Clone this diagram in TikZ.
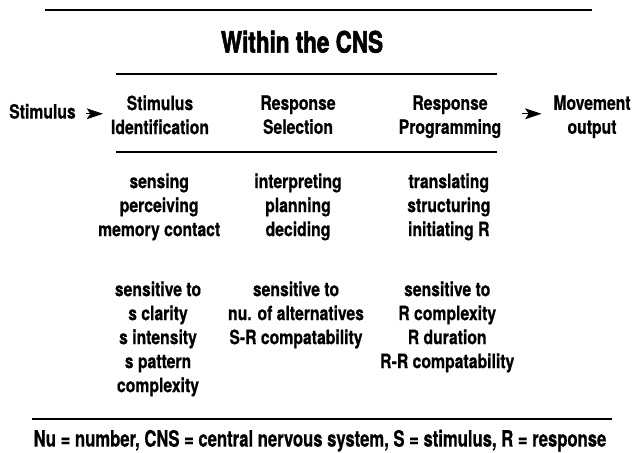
\documentclass[tikz,border=0pt]{standalone}
\usepackage{fontspec}
\setmainfont{TeX Gyre Heros}[FakeStretch=0.8, BoldFeatures={FakeBold=0.6}]
\newfontfamily\headfont{TeX Gyre Heros}[FakeStretch=0.76, BoldFeatures={FakeBold=2}]
\newfontfamily\notefont{TeX Gyre Heros}[FakeStretch=0.74, BoldFeatures={FakeBold=0.8}]
\usetikzlibrary{
    arrows.meta,
    positioning
}

\begin{document}
\begin{tikzpicture}[
    stage/.style={align=center, inner sep=0pt, anchor=north,
        font=\fontsize{14}{17.07}\selectfont\bfseries,
        execute at begin node=\strut},
    tip/.style={-{Stealth[length=0.41cm, width=0.27cm, inset=0.09cm]}, line width=0.6pt},
    rule/.style={line width=1.5pt}
]
\useasboundingbox (0, 0) rectangle (15.8, 11.325);

\draw[rule] (1.125, 11.075) -- (14.8, 11.075);
\node[inner sep=0pt, anchor=base, font=\headfont\bfseries\fontsize{21}{24}\selectfont] (cns) at (7.55, 10.01) {Within the CNS};
\draw[rule] (2.9, 9.475) -- (12.425, 9.475);

\node[stage, anchor=base east] (stim) at (1.9, 8.36) {Stimulus};
\node[stage] (ident) at (4.0, 8.945) {Stimulus\\Identification};
\node[stage] (select) at (7.45, 8.945) {Response\\Selection};
\node[stage] (prog) at (11.25, 8.945) {Response\\Programming};
\node[stage] (move) at (14.8, 8.945) {Movement\\output};

\draw[tip, shorten <=0.25cm, shorten >=0.19cm] (stim.east) -- (stim.east -| ident.west);
\draw[tip, shorten <=0.5cm, shorten >=0.29cm] (prog.east |- stim.east) -- (move.west |- stim.east);

\draw[rule] (2.9, 7.525) -- (12.425, 7.525);

\node[stage] (sense) at (3.98, 6.995) {sensing\\perceiving\\memory contact};
\node[stage] (interp) at (7.45, 6.995) {interpreting\\planning\\deciding};
\node[stage] (transl) at (11.22, 6.995) {translating\\structuring\\initiating R};

\node[stage] (sensid) at (3.95, 4.295) {sensitive to\\s clarity\\s intensity\\s pattern\\complexity};
\node[stage] (senssel) at (7.4, 4.295) {sensitive to\\nu. of alternatives\\S-R compatability};
\node[stage] (sensprog) at (11.18, 4.295) {sensitive to\\R complexity\\R duration\\R-R compatability};

\draw[rule] (0.8, 0.85) -- (15.3, 0.85);
\node[inner sep=0pt, anchor=base, font=\notefont\bfseries\fontsize{16}{18}\selectfont] (note) at (8.0, 0.16) {Nu = number, CNS = central nervous system, S = stimulus, R = response};
\end{tikzpicture}
\end{document}
